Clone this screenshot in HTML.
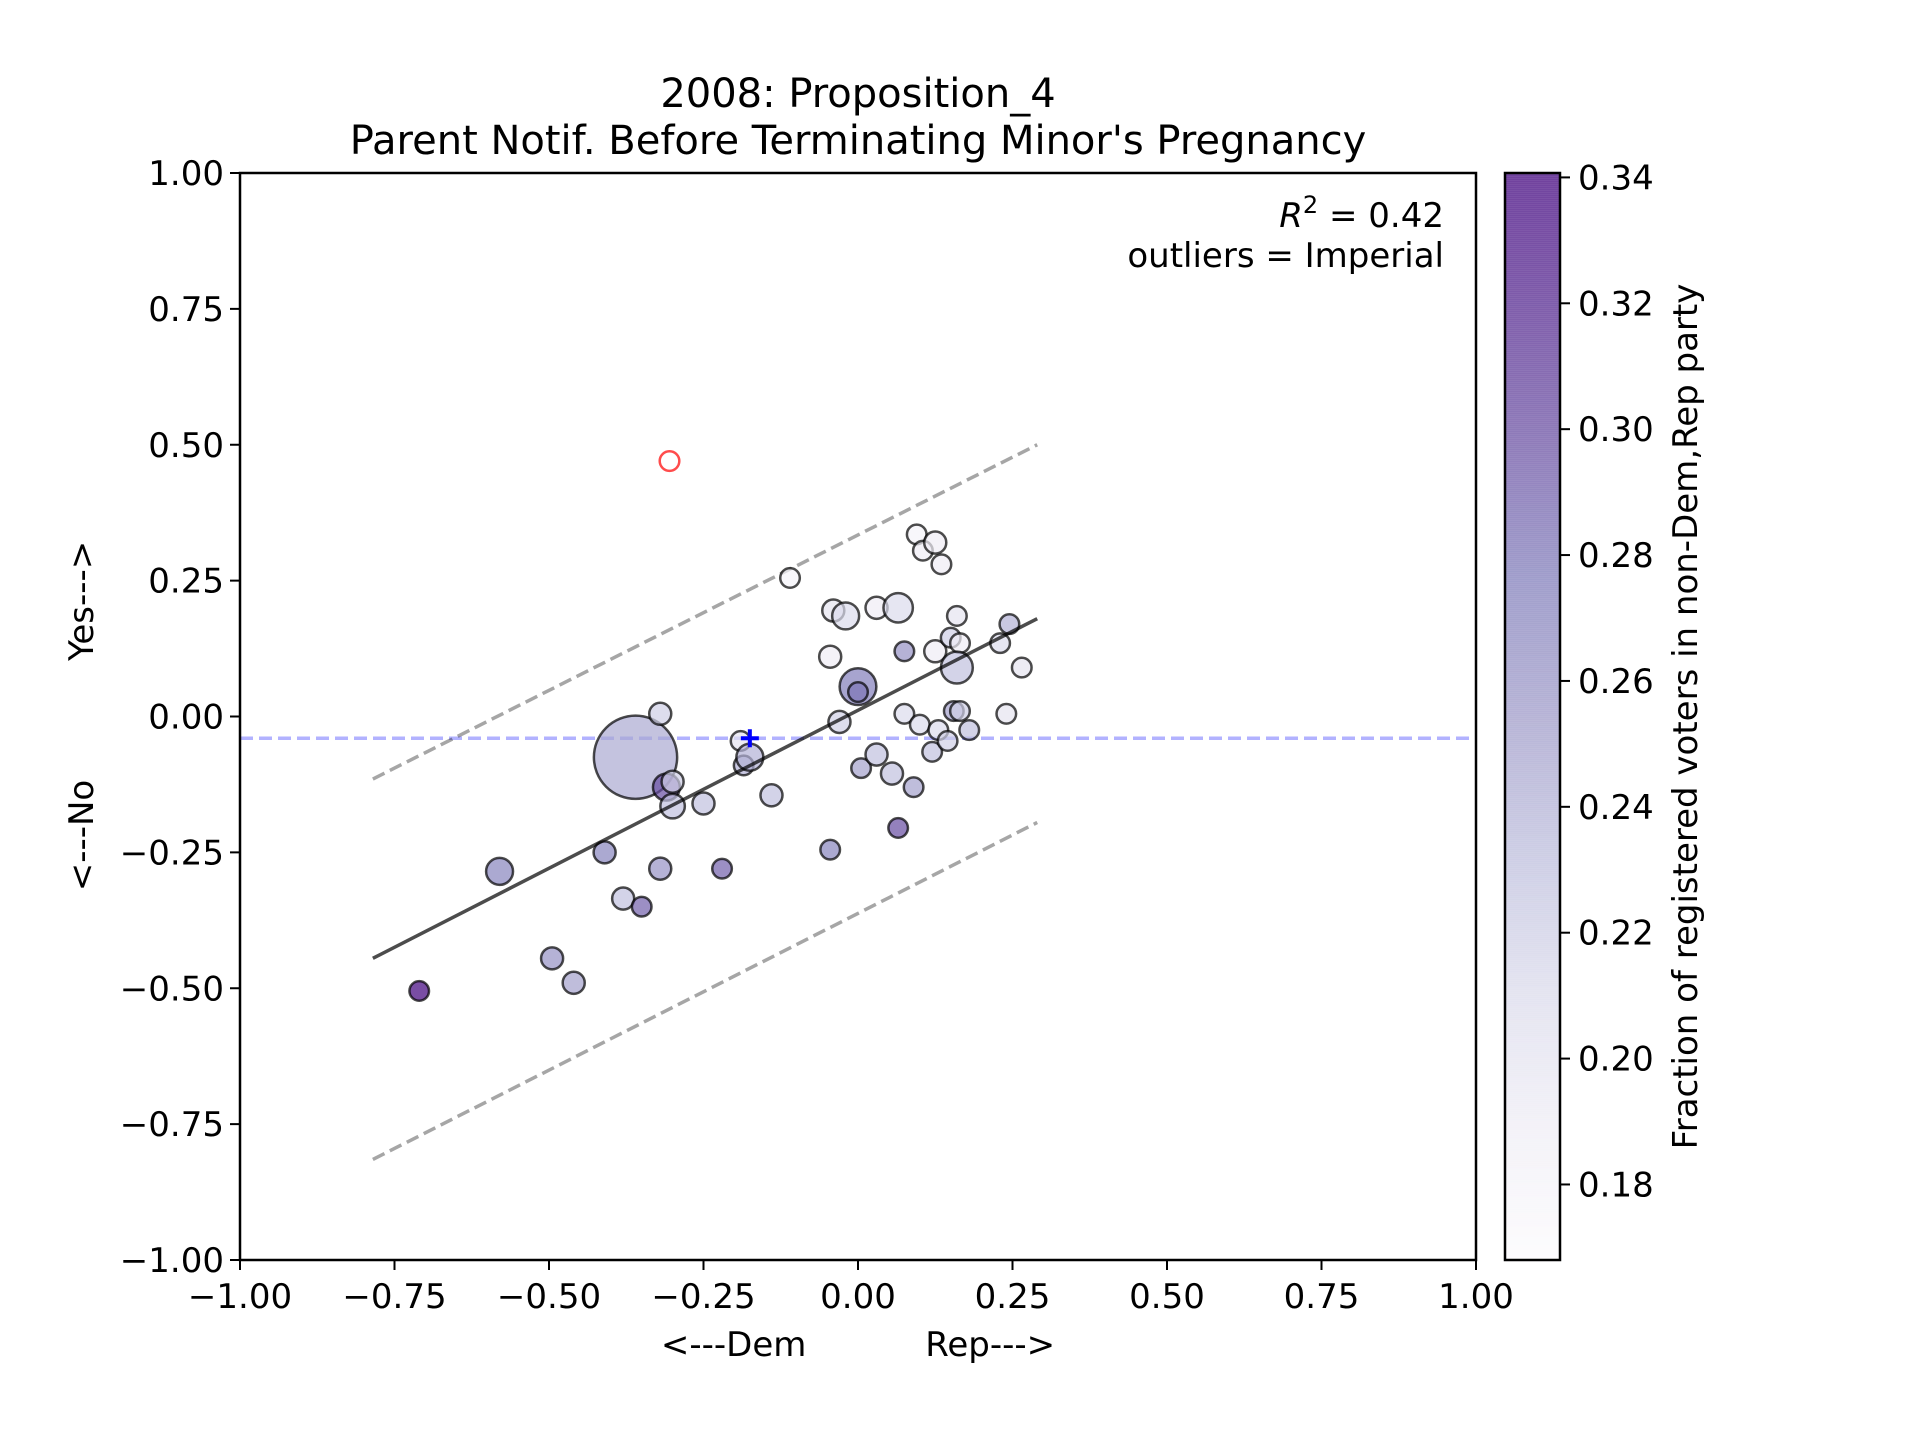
<!DOCTYPE html>
<html><head><meta charset="utf-8"><style>
body{margin:0;background:#fff}
svg{display:block;font-family:"DejaVu Sans","Liberation Sans",sans-serif}
</style></head><body>
<svg id="chart" width="1920" height="1440" xmlns="http://www.w3.org/2000/svg"></svg>
<script>
const xs = [-0.71,-0.58,-0.495,-0.46,-0.41,-0.38,-0.35,-0.36,-0.32,-0.32,-0.31,-0.30,-0.30,-0.25,-0.22,-0.19,-0.185,-0.175,-0.14,-0.11,-0.045,-0.04,-0.02,-0.03,-0.045,0.0,0.0,0.005,0.03,0.065,0.03,0.055,0.065,0.075,0.075,0.09,0.095,0.105,0.1,0.12,0.125,0.125,0.13,0.135,0.145,0.15,0.155,0.16,0.165,0.16,0.165,0.18,0.23,0.245,0.24,0.265];
const ys = [-0.505,-0.285,-0.445,-0.49,-0.25,-0.335,-0.35,-0.075,0.005,-0.28,-0.13,-0.12,-0.165,-0.16,-0.28,-0.045,-0.09,-0.075,-0.145,0.255,0.11,0.195,0.185,-0.01,-0.245,0.055,0.045,-0.095,0.2,0.2,-0.07,-0.105,-0.205,0.005,0.12,-0.13,0.335,0.305,-0.015,-0.065,0.32,0.12,-0.025,0.28,-0.045,0.145,0.01,0.185,0.135,0.09,0.01,-0.025,0.135,0.17,0.005,0.09];
const sizes = [8,11,9,9,9,9,8,34,9,9,11,9,10,9,8,8,8,11,9,8,9,9,11,9,8,15,8,8,9,12,9,9,8,8,8,8,8,8,8,8,9,9,8,8,8,8,8,8,8,13,8,8,8,8,8,8];
const fracs = [0.34,0.27,0.26,0.25,0.27,0.23,0.29,0.245,0.22,0.26,0.30,0.22,0.23,0.23,0.29,0.2,0.24,0.24,0.23,0.18,0.19,0.2,0.21,0.22,0.27,0.275,0.28,0.25,0.19,0.21,0.23,0.23,0.30,0.21,0.26,0.25,0.18,0.19,0.21,0.23,0.19,0.19,0.21,0.19,0.22,0.22,0.25,0.2,0.19,0.23,0.22,0.23,0.21,0.24,0.2,0.2];
const outlierX = [-0.305], outlierY = [0.47];
const meanX = -0.175, meanY = -0.04;
const fitX = [-0.785, 0.29], fitY = [-0.445, 0.18];
const upperY = [-0.115, 0.5], lowerY = [-0.815, -0.195];
const xTicks = [-1,-0.75,-0.5,-0.25,0,0.25,0.5,0.75,1];
const yTicks = [-1,-0.75,-0.5,-0.25,0,0.25,0.5,0.75,1];
const cTicks = [0.18,0.20,0.22,0.24,0.26,0.28,0.30,0.32,0.34];
const cMin = 0.168, cMax = 0.3407;

const L=240,R=1476,T=173,B=1260;
const FS=34;
const sx=v=>L+(v+1)/2*(R-L), sy=v=>T+(1-v)/2*(B-T);
const CL=1505,CR=1560, cy=v=>B-(v-cMin)/(cMax-cMin)*(B-T);
const svg=document.getElementById('chart');
const NS='http://www.w3.org/2000/svg';
function mk(tag,attrs,parent){const e=document.createElementNS(NS,tag);for(const k in attrs)e.setAttribute(k,attrs[k]);(parent||svg).appendChild(e);return e;}
const stops=[[252,251,253],[239,237,245],[218,218,235],[188,189,220],[158,154,200],[128,125,186],[106,81,163],[84,39,143],[63,0,125]];
function purple(v){let t=Math.max(0,Math.min(1,(v-cMin)/(cMax-cMin)))*8;let i=Math.min(7,Math.floor(t)),f=t-i;const a=stops[i],b=stops[i+1];return 'rgb('+a.map((c,k)=>Math.round(c+(b[k]-c)*f)).join(',')+')';}

// colorbar
for(let y=T;y<B;y+=2){const v=cMin+(B-y)/(B-T)*(cMax-cMin);const r=mk('rect',{x:CL,y:y,width:CR-CL,height:2.2,fill:purple(v),'fill-opacity':0.7});

}
const cb=mk('rect',{x:CL,y:T,width:CR-CL,height:B-T,fill:'none',stroke:'#000','stroke-width':2.5});


cTicks.forEach(v=>{const y=cy(v);mk('line',{x1:CR,x2:CR+10,y1:y,y2:y,stroke:'#000','stroke-width':2});
const t=mk('text',{x:CR+18,y:y+12,'font-size':FS});t.textContent=v.toFixed(2);

});
const cl=mk('text',{x:0,y:0,'font-size':FS,'text-anchor':'middle',transform:'translate(1697,'+((T+B)/2)+') rotate(-90)'});cl.textContent='Fraction of registered voters in non-Dem,Rep party';



// dashed lines
const hl=mk('line',{x1:L,x2:R,y1:sy(meanY),y2:sy(meanY),stroke:'#0000ff','stroke-opacity':0.3,'stroke-width':3.5,'stroke-dasharray':'13,6'});


[upperY,lowerY].forEach((yy,i)=>{const l=mk('line',{x1:sx(fitX[0]),x2:sx(fitX[1]),y1:sy(yy[0]),y2:sy(yy[1]),stroke:'#000','stroke-opacity':0.35,'stroke-width':3.5,'stroke-dasharray':'13,6'});

});

// points
xs.forEach((x,i)=>{const c=mk('circle',{cx:sx(x),cy:sy(ys[i]),r:sizes[i]*1.2245,fill:purple(fracs[i]),'fill-opacity':0.7,stroke:'#000','stroke-opacity':0.7,'stroke-width':2.5});

});
outlierX.forEach((x,i)=>{const c=mk('circle',{cx:sx(x),cy:sy(outlierY[i]),r:9.8,fill:'none',stroke:'#ff0000','stroke-opacity':0.7,'stroke-width':2.5});

});
const fl=mk('line',{x1:sx(fitX[0]),x2:sx(fitX[1]),y1:sy(fitY[0]),y2:sy(fitY[1]),stroke:'#000','stroke-opacity':0.7,'stroke-width':3.5});


const mp=mk('path',{d:`M${sx(meanX)-9},${sy(meanY)}h18M${sx(meanX)},${sy(meanY)-9}v18`,stroke:'#0000ff','stroke-width':4});



// axes frame
const fr=mk('rect',{x:L,y:T,width:R-L,height:B-T,fill:'none',stroke:'#000','stroke-width':2.5});


const fmt=v=>(v<0?'\u2212':'')+Math.abs(v).toFixed(2);
xTicks.forEach(v=>{const x=sx(v);mk('line',{x1:x,x2:x,y1:B,y2:B+10,stroke:'#000','stroke-width':2});
const t=mk('text',{x:x,y:B+48,'font-size':FS,'text-anchor':'middle'});t.textContent=fmt(v);

});
yTicks.forEach(v=>{const y=sy(v);mk('line',{x1:L-10,x2:L,y1:y,y2:y,stroke:'#000','stroke-width':2});
const t=mk('text',{x:L-16,y:y+12,'font-size':FS,'text-anchor':'end'});t.textContent=fmt(v);

});
</script>
<div style="position:absolute;left:0;top:0;width:1920px;height:1440px;pointer-events:none">
<svg width="1920" height="1440" style="font-family:'DejaVu Sans','Liberation Sans',sans-serif">
<text x="858" y="107" font-size="40" text-anchor="middle">2008: Proposition_4</text>
<text x="858" y="154" font-size="40" text-anchor="middle">Parent Notif. Before Terminating Minor's Pregnancy</text>
<text x="858" y="1356" font-size="34" text-anchor="middle" xml:space="preserve">&lt;---Dem           Rep---&gt;</text>
<text transform="translate(93,716) rotate(-90)" font-size="34" text-anchor="middle" xml:space="preserve">&lt;---No           Yes---&gt;</text>
<text x="1444" y="227" font-size="34" text-anchor="end"><tspan font-style="italic">R</tspan><tspan dy="-14" font-size="24">2</tspan><tspan dy="14"> = 0.42</tspan></text>
<text x="1444" y="267" font-size="34" text-anchor="end">outliers = Imperial</text>
</svg></div>
</body></html>
